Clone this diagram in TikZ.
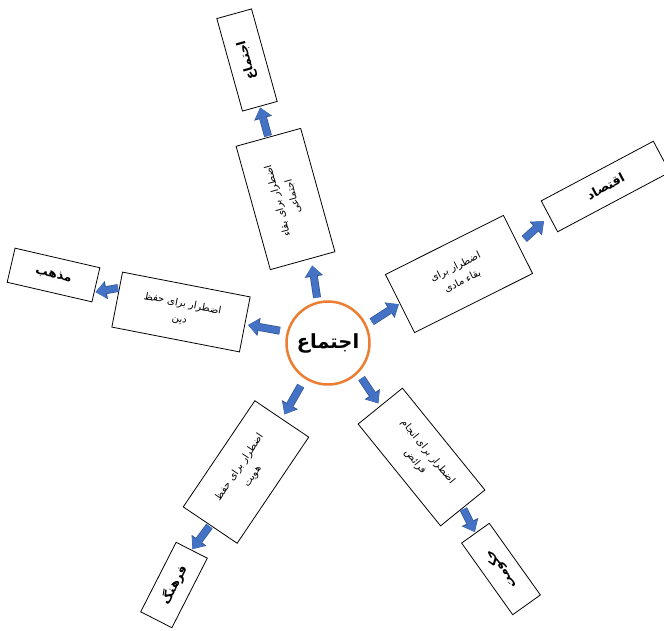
\documentclass[tikz,border=0pt]{standalone}
\usepackage{fontspec}
\usetikzlibrary{arrows.meta,calc}
\newfontfamily\arfont[Script=Arabic]{DejaVu Sans}
\TeXXeTstate=1
\definecolor{arrowblue}{RGB}{68,114,196}
\definecolor{arrowdark}{RGB}{47,82,143}
\definecolor{ringorange}{RGB}{237,125,49}
\tikzset{
  inbox/.style={draw=black, line width=0.8pt, fill=white, inner sep=2pt, align=center,
    font=\arfont\fontsize{10}{16}\selectfont},
  outbox/.style={draw=black, line width=0.8pt, fill=white, inner sep=2pt, align=center,
    font=\arfont\bfseries\fontsize{12.5}{14}\selectfont},
  hub/.style={circle, draw=ringorange, line width=2.5pt, fill=white, minimum size=83pt,
    font=\arfont\bfseries\fontsize{19.5}{21}\selectfont},
  blockarrow/.style={line width=6.5pt, draw=arrowblue,
    -{Triangle[length=10pt,width=16pt,line width=0pt]},
    shorten <=5pt, shorten >=4pt,
    preaction={draw=arrowdark, line width=7.9pt,
      -{Triangle[length=11pt,width=18.5pt,line width=0pt]}}}
}
\begin{document}
\begin{tikzpicture}[x=1pt,y=-1pt]
\fill[white] (0,0) rectangle (664,630);
\useasboundingbox (0,0) rectangle (664,630);

% hub
\node[hub] (circ) at (328,343) {\beginR اجتماع\endR};

% inner boxes
\node[inbox, rotate=105.5, minimum width=128pt, minimum height=67pt] (b1) at (285.5,199)
  {\beginR اضطرار برای بقاء\endR\\\beginR اجتماعی\endR};
\node[inbox, rotate=26.6, minimum width=132pt, minimum height=65pt] (b2) at (459,274)
  {\beginR اضطرار برای\endR\\\beginR بقاء مادی\endR};
\node[inbox, rotate=-11, minimum width=130pt, minimum height=56pt] (b3) at (181,312)
  {\beginR اضطرار برای حفظ\endR\\\beginR دین\endR};
\node[inbox, rotate=56, minimum width=128pt, minimum height=65pt] (b4) at (246,472)
  {\beginR اضطرار برای حفظ\endR\\\beginR هویت\endR};
\node[inbox, rotate=-51, minimum width=131pt, minimum height=57pt] (b5) at (421.5,457)
  {\beginR اضطرار برای انجام\endR\\\beginR فرائض\endR};

% outer boxes
\node[outbox, rotate=105.5, minimum width=96pt, minimum height=36pt] (t1) at (247,60)
  {\beginR اجتماع\endR};
\node[outbox, rotate=28, minimum width=127pt, minimum height=35pt] (t2) at (605.5,186.5)
  {\beginR اقتصاد\endR};
\node[outbox, rotate=-13, minimum width=87pt, minimum height=35pt] (t3) at (53.5,275)
  {\beginR مذهب\endR};
\node[outbox, rotate=63, minimum width=78pt, minimum height=35pt] (t4) at (174,585)
  {\beginR فرهنگ\endR};
\node[outbox, rotate=125.5, minimum width=88pt, minimum height=34pt] (t5) at (501,569)
  {\beginR حکومت\endR};

% arrows from hub
\draw[blockarrow, shorten <=4pt, shorten >=7pt] (circ.104) -- ($(b1.west)!0.26!(b1.south west)$);
\draw[blockarrow, shorten <=6pt, shorten >=1pt] (circ.25) -- (b2.west);
\draw[blockarrow, shorten <=7pt, shorten >=3pt] (circ.165) -- (b3.east);
\draw[blockarrow, shorten <=8pt, shorten >=5pt] (circ.237) -- (b4.east);
\draw[blockarrow, shorten <=6pt, shorten >=3pt] (circ.-45) -- (b5.west);

% arrows to outer boxes
\draw[blockarrow, shorten <=1pt, shorten >=1pt] (b1.east) -- (t1.west);
\draw[blockarrow, shorten <=8pt, shorten >=7pt] (b2.east) -- (t2.west);
\draw[blockarrow, shorten <=1pt, shorten >=1pt] ($(b3.west)!0.42!(b3.north west)$) -- ($(t3.east)!0.42!(t3.south east)$);
\draw[blockarrow, shorten <=1pt, shorten >=1pt] (b4.west) -- (t4.east);
\draw[blockarrow, shorten <=1pt, shorten >=1pt] (b5.east) -- (t5.east);
\end{tikzpicture}
\end{document}
